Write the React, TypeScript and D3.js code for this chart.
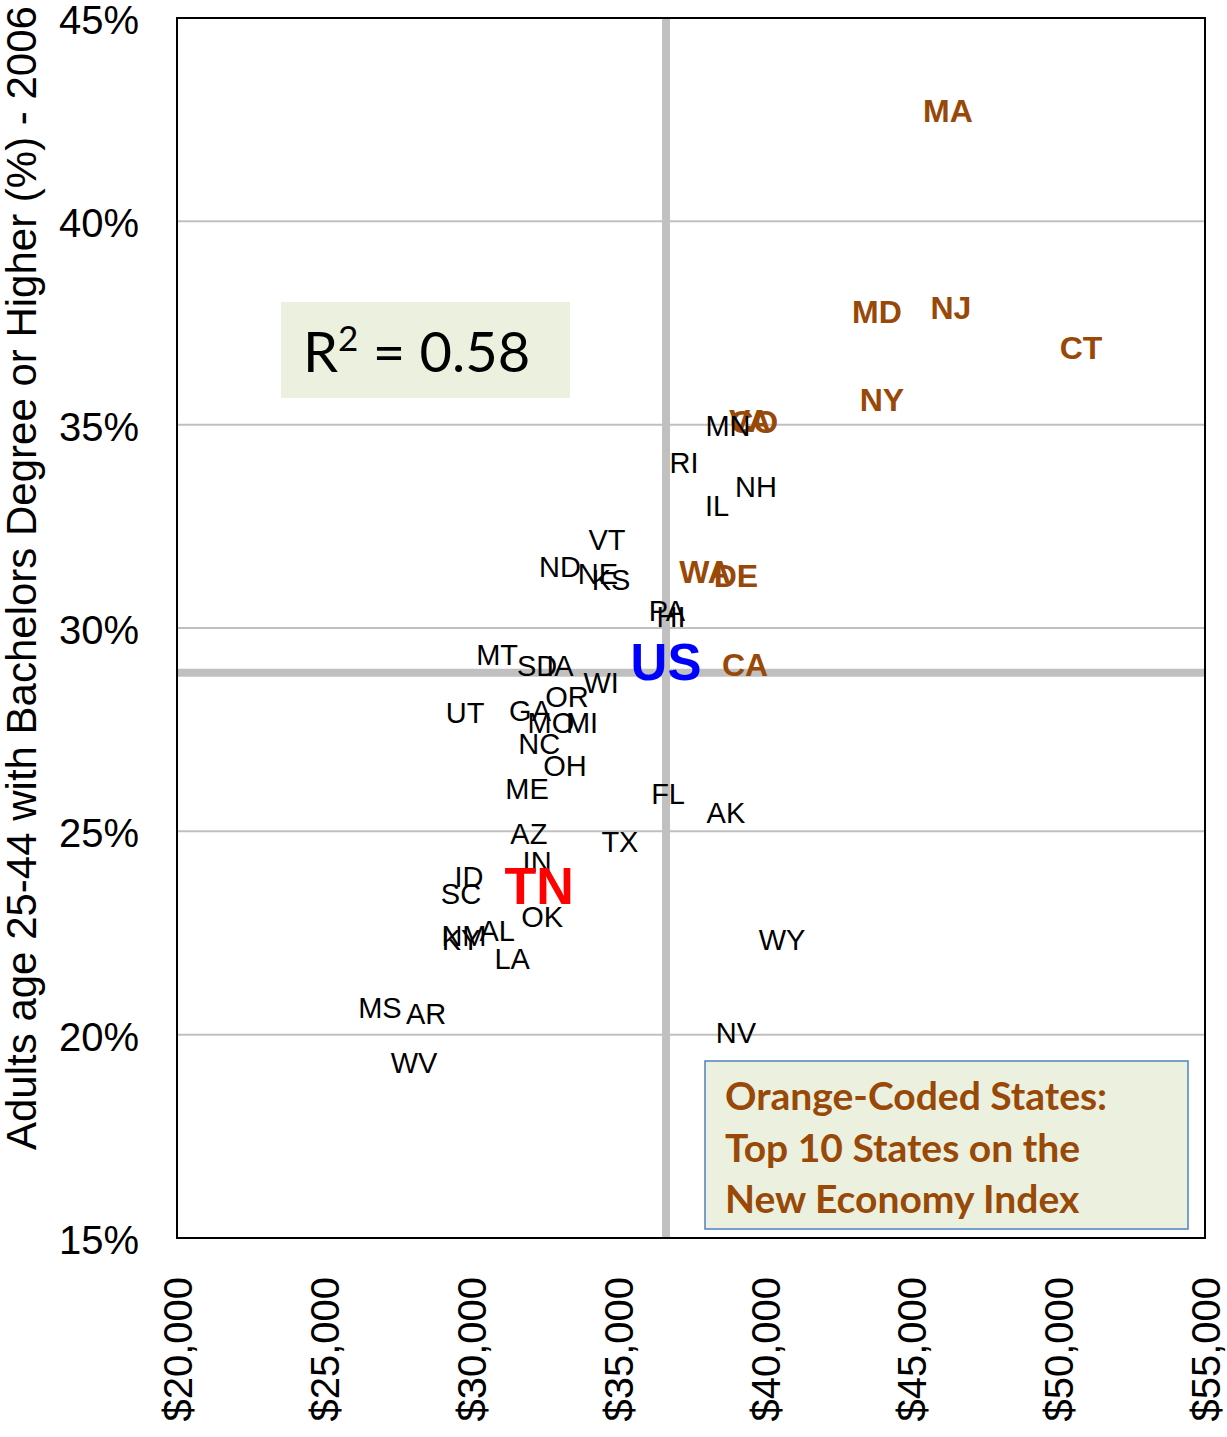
import React, { useEffect, useRef } from "react";
import * as d3 from "d3";

// state labels, median income (x) and % adults 25-44 with bachelors (y)
const states = ["MA","MD","NJ","CT","NY","VA","CO","WA","DE","CA","MN","RI","NH","IL","VT","ND","NE","KS","PA","HI","MT","SD","IA","WI","OR","UT","GA","MO","MI","NC","OH","ME","FL","AK","AZ","TX","IN","ID","SC","OK","NM","KY","AL","LA","MS","AR","WV","WY","NV","TN","US"];
const income = [46250,43830,46350,50780,44000,39510,39650,37980,39030,39340,38760,37260,39710,38390,34640,33040,34330,34780,36680,36820,30900,32260,33040,34440,33280,29810,32020,32730,33790,32330,33210,31920,36720,38690,31980,35080,32260,29940,29670,32430,29770,29670,30900,31410,26910,28480,28070,40600,39030,32330,36650];
const bachelors = [42.57,37.62,37.72,36.74,35.46,34.94,34.92,31.23,31.13,28.94,34.82,33.93,33.34,32.85,32.02,31.35,31.2,31.03,30.27,30.12,29.19,28.92,28.92,28.5,28.16,27.76,27.81,27.52,27.52,27.0,26.46,25.89,25.77,25.3,24.79,24.61,24.1,23.75,23.31,22.75,22.28,22.18,22.4,21.71,20.51,20.36,19.16,22.18,19.89,23.41,28.9];
const topTen = ["MA","MD","NJ","CT","NY","VA","CO","WA","DE","CA"];

const xTicks = [20000,25000,30000,35000,40000,45000,50000,55000];
const yTicks = [15,20,25,30,35,40,45];
const gridLines = [20,25,30,35,40];

const rSquared = "0.58";
const noteLines = ["Orange-Coded States:", "Top 10 States on the", "New Economy Index"];

const ORANGE = "#984807";

export default function App() {
  const ref = useRef<HTMLDivElement | null>(null);

  useEffect(() => {
    if (!ref.current) return;
    d3.select(ref.current).selectAll("svg").remove();

    const width = 1227;
    const height = 1437;
    const left = 177, right = 1205, top = 18, bottom = 1238;

    const x = d3.scaleLinear().domain([20000, 55000]).range([left, right]);
    const y = d3.scaleLinear().domain([15, 45]).range([bottom, top]);

    const svg = d3
      .select(ref.current)
      .append("svg")
      .attr("width", width)
      .attr("height", height)
      .attr("style", "position:absolute;left:0;top:0;background:#fff");

    const font = "'Liberation Sans', Arial, sans-serif";

    // horizontal gridlines
    svg
      .append("g")
      .selectAll()
      .data(gridLines)
      .join("line")
      .attr("x1", left)
      .attr("x2", right)
      .attr("y1", (d) => y(d))
      .attr("y2", (d) => y(d))
      .attr("stroke", "#c0c0c0")
      .attr("stroke-width", 2);

    // US average reference lines
    const usIdx = states.indexOf("US");
    svg
      .append("line")
      .attr("x1", x(income[usIdx]))
      .attr("x2", x(income[usIdx]))
      .attr("y1", top)
      .attr("y2", bottom)
      .attr("stroke", "#c0c0c0")
      .attr("stroke-width", 8);
    svg
      .append("line")
      .attr("x1", left)
      .attr("x2", right)
      .attr("y1", y(bachelors[usIdx]))
      .attr("y2", y(bachelors[usIdx]))
      .attr("stroke", "#c0c0c0")
      .attr("stroke-width", 8);

    // plot border
    svg
      .append("rect")
      .attr("x", left)
      .attr("y", top)
      .attr("width", right - left)
      .attr("height", bottom - top)
      .attr("fill", "none")
      .attr("stroke", "#000")
      .attr("stroke-width", 2);

    // y tick labels
    svg
      .append("g")
      .attr("font-family", font)
      .attr("font-size", 40)
      .attr("text-anchor", "end")
      .selectAll()
      .data(yTicks)
      .join("text")
      .attr("x", 139)
      .attr("y", (d) => y(d))
      .attr("dy", "0.4em")
      .text((d) => `${d}%`);

    // x tick labels (rotated)
    const fmt = d3.format("$,");
    svg
      .append("g")
      .attr("font-family", font)
      .attr("font-size", 40)
      .attr("text-anchor", "end")
      .selectAll()
      .data(xTicks)
      .join("text")
      .attr("transform", (d) => `translate(${x(d)},1277) rotate(-90)`)
      .attr("dy", "0.38em")
      .text((d) => fmt(d));

    // y axis title
    svg
      .append("text")
      .attr("transform", "translate(36,1150) rotate(-90)")
      .attr("font-family", font)
      .attr("font-size", 42)
      .text("Adults age 25-44 with Bachelors Degree or Higher (%) - 2006");

    // R squared box
    svg
      .append("rect")
      .attr("x", 281)
      .attr("y", 302)
      .attr("width", 289)
      .attr("height", 96)
      .attr("fill", "#ebf1de");
    const r2 = svg
      .append("text")
      .attr("x", 303)
      .attr("y", 372)
      .attr("font-family", "Lato, 'Open Sans', sans-serif")
      .attr("font-size", 56);
    r2.append("tspan").text("R");
    r2.append("tspan").attr("font-size", 35).attr("dy", -21).text("2");
    r2.append("tspan").attr("dy", 21).text(` = ${rSquared}`);

    // legend note box
    svg
      .append("rect")
      .attr("x", 705)
      .attr("y", 1061)
      .attr("width", 483)
      .attr("height", 168)
      .attr("fill", "#ebf1de")
      .attr("stroke", "#4f81bd")
      .attr("stroke-width", 1.5);
    svg
      .append("g")
      .attr("font-family", "Lato, 'Open Sans', sans-serif")
      .attr("font-weight", "bold")
      .attr("font-size", 39)
      .attr("fill", ORANGE)
      .selectAll()
      .data(noteLines)
      .join("text")
      .attr("x", 725)
      .attr("y", (_, i) => 1110 + i * 51.5)
      .text((d) => d);

    // state labels
    const rows = states.map((s, i) => ({ s, inc: income[i], pct: bachelors[i] }));
    svg
      .append("g")
      .attr("font-family", font)
      .attr("text-anchor", "middle")
      .selectAll()
      .data(rows)
      .join("text")
      .attr("x", (d) => x(d.inc))
      .attr("y", (d) => y(d.pct))
      .attr("dy", "0.15em")
      .attr("font-size", (d) =>
        d.s === "US" ? 51 : d.s === "TN" ? 52 : topTen.includes(d.s) ? 32 : 29
      )
      .attr("font-weight", (d) =>
        d.s === "US" || d.s === "TN" || topTen.includes(d.s) ? "bold" : "normal"
      )
      .attr("fill", (d) =>
        d.s === "US" ? "#0000ff" : d.s === "TN" ? "#ff0000" : topTen.includes(d.s) ? ORANGE : "#000"
      )
      .text((d) => d.s);
  });

  return <div ref={ref}></div>;
}
